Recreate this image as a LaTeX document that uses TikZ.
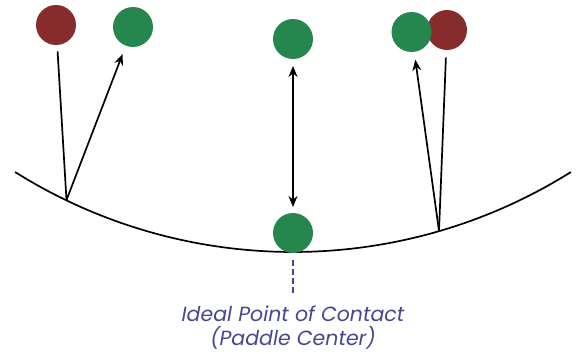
\documentclass[tikz,border=0pt]{standalone}
\usepackage{fontspec}
\setsansfont{Poppins}
\usetikzlibrary{arrows.meta}

\definecolor{ballred}{RGB}{134,44,44}
\definecolor{ballgreen}{RGB}{37,135,77}
\definecolor{noteblue}{RGB}{70,70,148}

\tikzset{
  ball/.style={circle,fill=#1,inner sep=0pt,outer sep=0pt,minimum size=40pt},
  ray/.style={line width=1.7pt,line cap=round},
  guide/.style={noteblue,line width=1.1pt,dash pattern=on 5.5pt off 3.5pt},
  note/.style={noteblue,font=\sffamily\itshape\fontsize{20.5}{24}\selectfont,align=center}
}

\begin{document}
\begin{tikzpicture}[x=1pt,y=-1pt,>={Stealth[length=11pt,width=9pt]}]
\useasboundingbox (0,0) rectangle (577,353);
% paddle face, arc of radius 523 about (293,-271)
\draw[line width=1.7pt] plot[domain=122.1:57.9,samples=80] ({293+523*cos(\x)},{-271+523*sin(\x)});
\coordinate (hitL) at (66.5,200);
\coordinate (hitR) at (439,231);
\coordinate (mid) at (293,252);

% incoming (red) and outgoing (green) balls
\node[ball=ballred] (inL) at (56,25) {};
\node[ball=ballgreen] (outL) at (133,27) {};
\node[ball=ballgreen] (outC) at (293,39) {};
\node[ball=ballgreen] (hitC) at (293,233) {};
\node[ball=ballred] (inR) at (447,30) {};
\node[ball=ballgreen] (outR) at (411.5,32) {};

\draw[ray,shorten <=7pt] (inL) -- (hitL);
\draw[ray,->,shorten >=9pt] (hitL) -- (outL);
\draw[ray,<->,shorten <=7pt,shorten >=6pt] (outC) -- (hitC);
\draw[ray,shorten <=8pt] (inR) -- (hitR);
\draw[ray,->,shorten >=8pt] (hitR) -- (outR);

% label under the paddle center
\node[note] (ideal) at (293,328) {Ideal Point of Contact\\(Paddle Center)};
\draw[guide,shorten <=8pt,shorten >=10pt] (mid) -- (ideal);
\end{tikzpicture}
\end{document}
